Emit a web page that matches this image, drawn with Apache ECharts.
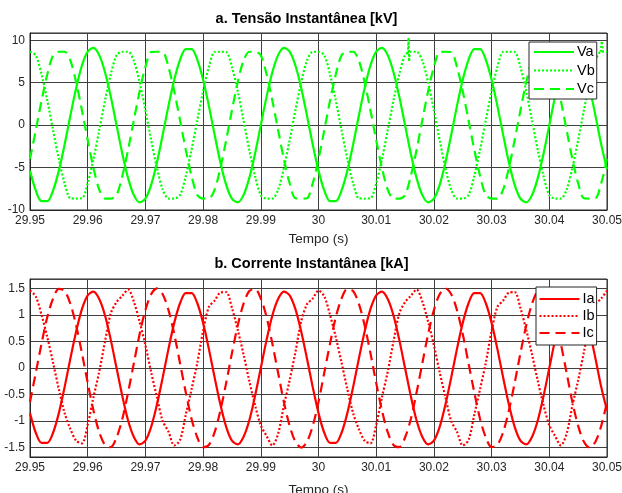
<!DOCTYPE html>
<html>
<head>
<meta charset="utf-8">
<title>Tensão e Corrente Instantânea</title>
<script src="https://cdn.jsdelivr.net/npm/echarts@6/dist/echarts.min.js"></script>
<style>
    html, body { margin: 0; padding: 0; background: #fff; }
    #chart { width: 622px; height: 493px; }
</style>
</head>
<body>
<div id="chart"></div>
<script>
const tInicio = 29.95;
const tPasso = 0.001;

const va = [
    -5.36, -7.70, -8.96, -8.96, -7.70, -5.36, -2.27, 1.14, 4.39, 7.03,
    8.67, 9.10, 8.25, 6.24, 3.36, 0.00, -3.36, -6.24, -8.25, -9.10,
    -8.67, -7.03, -4.39, -1.14, 2.27, 5.36, 7.70, 8.96, 8.96, 7.70,
    5.36, 2.27, -1.14, -4.39, -7.03, -8.67, -9.10, -8.25, -6.24, -3.36,
    0.00, 3.36, 6.24, 8.25, 9.10, 8.67, 7.03, 4.39, 1.14, -2.27,
    -5.36, -7.70, -8.96, -8.96, -7.70, -5.36, -2.27, 1.14, 4.39, 7.03,
    8.67, 9.10, 8.25, 6.24, 3.36, 0.00, -3.36, -6.24, -8.25, -9.10,
    -8.67, -7.03, -4.39, -1.14, 2.27, 5.36, 7.70, 8.96, 8.96, 7.70,
    5.36, 2.27, -1.14, -4.39, -7.03, -8.67, -9.10, -8.25, -6.24, -3.36,
    0.00, 3.36, 6.24, 8.25, 9.10, 8.67, 7.03, 4.39, 1.14, -2.27,
    -5.20
];

const vb = [
    8.65, 8.24, 5.99, 2.90, -0.59, -4.00, -6.85, -8.62, -8.65, -8.62,
    -6.85, -4.00, -0.59, 2.90, 5.99, 8.24, 8.65, 8.65, 7.60, 5.04,
    1.76, -1.76, -5.04, -7.60, -8.65, -8.65, -8.24, -5.99, -2.90, 0.59,
    4.00, 6.85, 8.62, 8.65, 8.62, 6.85, 4.00, 0.59, -2.90, -5.99,
    -8.24, -8.65, -8.65, -7.60, -5.04, -1.76, 1.76, 5.04, 7.60, 8.65,
    8.65, 8.24, 5.99, 2.90, -0.59, -4.00, -6.85, -8.62, -8.65, -8.62,
    -6.85, -4.00, -0.59, 2.90, 5.99, 8.24, 8.65, 8.65, 7.60, 5.04,
    1.76, -1.76, -5.04, -7.60, -8.65, -8.65, -8.24, -5.99, -2.90, 0.59,
    4.00, 6.85, 8.62, 8.65, 8.62, 6.85, 4.00, 0.59, -2.90, -5.99,
    -8.24, -8.65, -8.65, -7.60, -5.04, -1.76, 1.76, 5.04, 7.60, 8.65,
    8.65
];

const vc = [
    -4.00, -0.59, 2.90, 5.99, 8.24, 8.65, 8.65, 7.60, 5.04, 1.76,
    -1.76, -5.04, -7.60, -8.65, -8.65, -8.24, -5.99, -2.90, 0.59, 4.00,
    6.85, 8.62, 8.65, 8.62, 6.85, 4.00, 0.59, -2.90, -5.99, -8.24,
    -8.65, -8.65, -7.60, -5.04, -1.76, 1.76, 5.04, 7.60, 8.65, 8.65,
    8.24, 5.99, 2.90, -0.59, -4.00, -6.85, -8.62, -8.65, -8.62, -6.85,
    -4.00, -0.59, 2.90, 5.99, 8.24, 8.65, 8.65, 7.60, 5.04, 1.76,
    -1.76, -5.04, -7.60, -8.65, -8.65, -8.24, -5.99, -2.90, 0.59, 4.00,
    6.85, 8.62, 8.65, 8.62, 6.85, 4.00, 0.59, -2.90, -5.99, -8.24,
    -8.65, -8.65, -7.60, -5.04, -1.76, 1.76, 5.04, 7.60, 8.65, 8.65,
    8.24, 5.99, 2.90, -0.59, -4.00, -6.85, -8.62, -8.65, -8.62, -6.85,
    -4.00
];

// short transients on Vb, as [time, kV]
const vbPico1 = [[30.0155, 8.45], [30.0156, 10.3], [30.0157, 7.5], [30.0158, 8.5]];
const vbPico2 = [[30.0489, 8.65], [30.0491, 9.9], [30.0493, 8.7]];

const ia = [
    -0.85, -1.22, -1.41, -1.41, -1.22, -0.85, -0.36, 0.18, 0.69, 1.11,
    1.37, 1.44, 1.30, 0.99, 0.53, 0.00, -0.53, -0.99, -1.30, -1.44,
    -1.37, -1.11, -0.69, -0.18, 0.36, 0.85, 1.22, 1.41, 1.41, 1.22,
    0.85, 0.36, -0.18, -0.69, -1.11, -1.37, -1.44, -1.30, -0.99, -0.53,
    0.00, 0.53, 0.99, 1.30, 1.44, 1.37, 1.11, 0.69, 0.18, -0.36,
    -0.85, -1.22, -1.41, -1.41, -1.22, -0.85, -0.36, 0.18, 0.69, 1.11,
    1.37, 1.44, 1.30, 0.99, 0.53, 0.00, -0.53, -0.99, -1.30, -1.44,
    -1.37, -1.11, -0.69, -0.18, 0.36, 0.85, 1.22, 1.41, 1.41, 1.22,
    0.85, 0.36, -0.18, -0.69, -1.11, -1.37, -1.44, -1.30, -0.99, -0.53,
    0.00, 0.53, 0.99, 1.30, 1.44, 1.37, 1.11, 0.69, 0.18, -0.36,
    -0.80
];

const ib = [
    1.46, 1.35, 1.00, 0.58, 0.10, -0.40, -0.85, -1.15, -1.37, -1.42,
    -1.07, -0.55, -0.07, 0.50, 1.03, 1.24, 1.36, 1.48, 1.25, 0.87,
    0.43, -0.08, -0.55, -1.00, -1.20, -1.46, -1.36, -0.88, -0.40, 0.10,
    0.70, 1.15, 1.27, 1.42, 1.43, 1.13, 0.72, 0.26, -0.24, -0.70,
    -1.08, -1.28, -1.46, -1.24, -0.71, -0.23, 0.30, 0.88, 1.20, 1.31,
    1.46, 1.35, 1.00, 0.58, 0.10, -0.40, -0.85, -1.15, -1.37, -1.42,
    -1.07, -0.55, -0.07, 0.50, 1.03, 1.24, 1.36, 1.48, 1.25, 0.87,
    0.43, -0.08, -0.55, -1.00, -1.20, -1.46, -1.36, -0.88, -0.40, 0.10,
    0.70, 1.15, 1.27, 1.42, 1.43, 1.13, 0.72, 0.26, -0.24, -0.70,
    -1.08, -1.28, -1.46, -1.24, -0.71, -0.23, 0.30, 0.88, 1.20, 1.31,
    1.46
];

const ic = [
    -0.64, -0.09, 0.46, 0.96, 1.31, 1.49, 1.45, 1.21, 0.80, 0.28,
    -0.28, -0.80, -1.21, -1.45, -1.49, -1.31, -0.96, -0.46, 0.09, 0.64,
    1.09, 1.39, 1.50, 1.39, 1.09, 0.64, 0.09, -0.46, -0.96, -1.31,
    -1.49, -1.45, -1.21, -0.80, -0.28, 0.28, 0.80, 1.21, 1.45, 1.49,
    1.31, 0.96, 0.46, -0.09, -0.64, -1.09, -1.39, -1.50, -1.39, -1.09,
    -0.64, -0.09, 0.46, 0.96, 1.31, 1.49, 1.45, 1.21, 0.80, 0.28,
    -0.28, -0.80, -1.21, -1.45, -1.49, -1.31, -0.96, -0.46, 0.09, 0.64,
    1.09, 1.39, 1.50, 1.39, 1.09, 0.64, 0.09, -0.46, -0.96, -1.31,
    -1.49, -1.45, -1.21, -0.80, -0.28, 0.28, 0.80, 1.21, 1.45, 1.49,
    1.31, 0.96, 0.46, -0.09, -0.64, -1.09, -1.39, -1.50, -1.39, -1.09,
    -0.64
];

const FONT = '"Liberation Sans", Arial, Helvetica, sans-serif';
const INK = '#262626';
const GRID = '#404040';
const VERDE = '#00ff00';
const VERMELHO = '#ff0000';

const tempo = va.map((_, i) => +(tInicio + i * tPasso).toFixed(3));
const pares = (valores) => valores.map((v, i) => [tempo[i], v]);

const tracos = { solid: 'solid', dotted: [2, 2], dashed: [10, 6] };

const linha = (name, data, idx, color, tipo, smooth = 0.3) => ({
    name,
    type: 'line',
    xAxisIndex: idx,
    yAxisIndex: idx,
    data,
    smooth,
    symbol: 'none',
    silent: true,
    clip: true,
    color,
    lineStyle: { color, width: 2.2, type: tracos[tipo] },
    emphasis: { disabled: true },
});

const eixoX = (idx, nameGap) => ({
    gridIndex: idx,
    type: 'value',
    min: 29.95,
    max: 30.05,
    interval: 0.01,
    name: 'Tempo (s)',
    nameLocation: 'middle',
    nameGap,
    nameTextStyle: { fontFamily: FONT, fontSize: 13.5, color: INK },
    axisLine: { onZero: false, lineStyle: { color: INK } },
    axisTick: { show: false },
    splitLine: { show: true, lineStyle: { color: GRID, width: 1 } },
    axisLabel: {
        margin: 5,
        fontFamily: FONT,
        fontSize: 12,
        color: INK,
        formatter: (v) => String(+v.toFixed(2)),
    },
});

const eixoY = (idx, extra) => Object.assign({
    gridIndex: idx,
    type: 'value',
    axisLine: { show: true, onZero: false, lineStyle: { color: INK } },
    axisTick: { show: false },
    splitLine: { show: true, lineStyle: { color: GRID, width: 1 } },
    axisLabel: {
        margin: 5,
        fontFamily: FONT,
        fontSize: 12,
        color: INK,
        showMaxLabel: false,
    },
}, extra);

// line-series legend icons always carry a symbol; hide it so only the stroke shows
const legenda = (data, left, top, itemGap, padding) => ({
    data,
    orient: 'vertical',
    left,
    top,
    itemWidth: 40,
    itemHeight: 14,
    itemGap,
    padding,
    backgroundColor: '#fff',
    borderColor: INK,
    borderWidth: 1,
    borderRadius: 0,
    selectedMode: false,
    z: 10,
    itemStyle: { opacity: 0, color: 'transparent', borderColor: 'transparent', borderWidth: 0 },
    textStyle: { fontFamily: FONT, fontSize: 14.5, color: '#000', padding: [0, 0, 0, -2] },
});

const titulo = (text, left, top) => ({
    text,
    left,
    top,
    textAlign: 'center',
    padding: 0,
    textStyle: { fontFamily: FONT, fontSize: 14.5, fontWeight: 'bold', color: '#000' },
});

// fixed plot boxes; outerBoundsMode 'none' keeps v6 from shrinking them to fit the axis names
const caixa = (top, height) => ({
    left: 30, top, width: 577, height,
    show: true, borderColor: INK, borderWidth: 1, backgroundColor: '#fff',
    containLabel: false, outerBoundsMode: 'none',
});

const chart = echarts.init(document.getElementById('chart'), null, { renderer: 'canvas' });

chart.setOption({
    animation: false,
    backgroundColor: '#fff',
    title: [
        titulo('a. Tensão Instantânea [kV]', 306.5, 11),
        titulo('b. Corrente Instantânea [kA]', 311.5, 256),
    ],
    grid: [caixa(33, 177), caixa(279, 178)],
    legend: [
        legenda(['Va', 'Vb', 'Vc'], 529, 42, 3.5, [2.5, 2, 2.5, 4]),
        legenda(['Ia', 'Ib', 'Ic'], 536, 287, 2, [4.5, 2, 4.5, 2.5]),
    ],
    xAxis: [eixoX(0, 22), eixoX(1, 26)],
    yAxis: [
        eixoY(0, { min: -10, max: 10.86, interval: 5 }),
        eixoY(1, { min: -1.677, max: 1.677, splitNumber: 6,
            axisLabel: { margin: 5, fontFamily: FONT, fontSize: 12, color: INK, showMinLabel: false, showMaxLabel: false } }),
    ],
    series: [
        linha('Va', pares(va), 0, VERDE, 'solid'),
        linha('Vb', pares(vb), 0, VERDE, 'dotted'),
        linha('Vc', pares(vc), 0, VERDE, 'dashed'),
        linha('Vb', vbPico1, 0, VERDE, 'dotted', false),
        linha('Vb', vbPico2, 0, VERDE, 'dotted', false),
        linha('Ia', pares(ia), 1, VERMELHO, 'solid'),
        linha('Ib', pares(ib), 1, VERMELHO, 'dotted'),
        linha('Ic', pares(ic), 1, VERMELHO, 'dashed'),
    ],
});

window.addEventListener('resize', chart.resize);
</script>
</body>
</html>
